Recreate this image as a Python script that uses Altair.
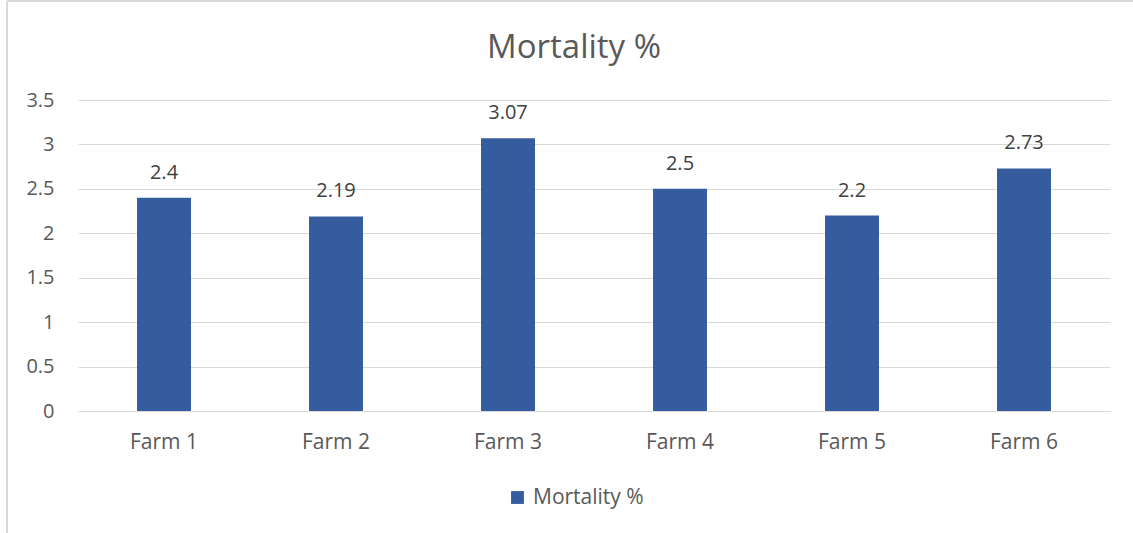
import altair as alt
import pandas as pd

farms = ["Farm 1", "Farm 2", "Farm 3", "Farm 4", "Farm 5", "Farm 6"]
mortality = [2.4, 2.19, 3.07, 2.5, 2.2, 2.73]
series_name = "Mortality %"
chart_title = "Mortality %"

df = pd.DataFrame({"farm": farms, "value": mortality, "series": [series_name] * len(farms)})

FONT = "Open Sans"
GRAY = "#595959"

x_enc = alt.X("farm:N", sort=farms,
              scale=alt.Scale(paddingInner=0.686, paddingOuter=0.343),
              axis=alt.Axis(title=None, labelAngle=0, domain=True, domainColor="#D9D9D9",
                            ticks=False, grid=False, labelFont=FONT, labelFontSize=21,
                            labelColor=GRAY, labelBaseline="middle", labelPadding=31))
y_enc = alt.Y("value:Q", scale=alt.Scale(domain=[0, 3.5], nice=False),
              axis=alt.Axis(title=None, values=[0, 0.5, 1, 1.5, 2, 2.5, 3, 3.5],
                            format="~g", domain=False, ticks=False, grid=True,
                            gridColor="#D9D9D9", labelFont=FONT, labelFontSize=20,
                            labelColor=GRAY, labelPadding=24))

bars = alt.Chart(df).mark_bar(size=54).encode(
    x=x_enc, y=y_enc,
    color=alt.Color("series:N", scale=alt.Scale(range=["#345C9F"]),
                    legend=alt.Legend(title=None, orient="none", legendX=429, legendY=387,
                                      symbolType="square", symbolSize=165,
                                      labelFont=FONT, labelFontSize=21, labelColor=GRAY,
                                      labelOffset=5, symbolStrokeWidth=0))
)

labels = alt.Chart(df).mark_text(dy=-25, baseline="middle", font=FONT, fontSize=20,
                                 color="#404040").encode(
    x=alt.X("farm:N", sort=farms), y="value:Q", text=alt.Text("value:Q")
)

title = alt.Chart(pd.DataFrame({"t": [chart_title]})).mark_text(
    font=FONT, fontSize=33, color=GRAY, baseline="middle", align="center"
).encode(x=alt.value(496), y=alt.value(-52), text="t:N")

border_left = alt.Chart(df).mark_rule(color="#D9D9D9", strokeWidth=1.5).encode(
    x=alt.value(-71), y=alt.value(-99), y2=alt.value(440))
border_top = alt.Chart(df).mark_rule(color="#D9D9D9", strokeWidth=1.5).encode(
    x=alt.value(-71), x2=alt.value(1060), y=alt.value(-99))

chart = alt.layer(bars, labels, title, border_left, border_top).properties(
    width=1032, height=311,
    padding={"left": 78, "top": 100, "right": 23, "bottom": 122},
    autosize=alt.AutoSizeParams(type="none"),
).configure_view(stroke=None)

chart.save("out.html", embed_options={"renderer": "svg", "actions": False})
